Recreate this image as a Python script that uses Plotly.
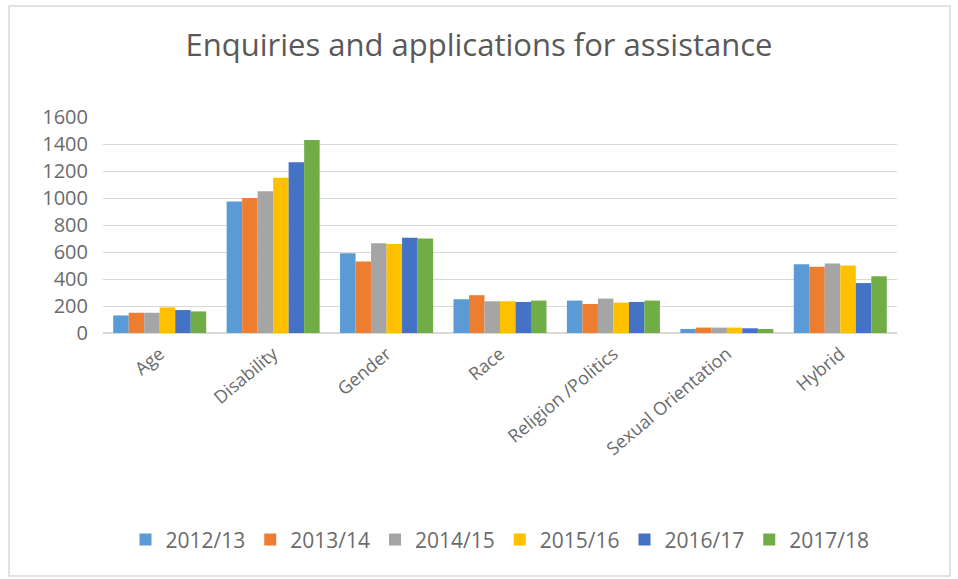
import plotly.graph_objects as go

categories = ["Age", "Disability", "Gender", "Race", "Religion /Politics", "Sexual Orientation", "Hybrid"]
years = ["2012/13", "2013/14", "2014/15", "2015/16", "2016/17", "2017/18"]
v_2012 = [130, 975, 590, 250, 240, 30, 510]
v_2013 = [150, 1000, 530, 280, 215, 40, 490]
v_2014 = [150, 1050, 665, 235, 255, 40, 515]
v_2015 = [190, 1150, 660, 235, 225, 40, 500]
v_2016 = [170, 1265, 705, 230, 230, 35, 370]
v_2017 = [160, 1430, 700, 240, 240, 30, 420]
series = [v_2012, v_2013, v_2014, v_2015, v_2016, v_2017]
colors = ["#5B9BD5", "#ED7D31", "#A5A5A5", "#FFC000", "#4472C4", "#70AD47"]
y_ticks = [0, 200, 400, 600, 800, 1000, 1200, 1400, 1600]

font_fam = "Open Sans, Liberation Sans, sans-serif"
fig = go.Figure()
for name, vals, c in zip(years, series, colors):
    fig.add_trace(go.Bar(x=categories, y=vals, name=name, marker=dict(color=c, line=dict(width=0))))

fig.update_layout(
    width=958, height=579,
    paper_bgcolor="white", plot_bgcolor="white",
    margin=dict(l=103, r=61, t=117, b=246),
    barmode="group", bargap=0.18, bargroupgap=0,
    title=dict(text="Enquiries and applications for assistance", x=0.5, xanchor="center",
               y=1 - 45 / 579, yanchor="middle",
               font=dict(family=font_fam, size=31, color="#595959")),
    xaxis=dict(tickangle=-40, tickfont=dict(family=font_fam, size=18, color="#6b6b6b"),
               showline=False, showgrid=False, ticks="", ticklabelstandoff=6),
    yaxis=dict(range=[0, 1600], tickvals=y_ticks, showgrid=True, gridcolor="#D9D9D9",
               gridwidth=1, zeroline=True, zerolinecolor="#D9D9D9",
               tickfont=dict(family=font_fam, size=20, color="#6b6b6b"), ticks="",
               ticklabelstandoff=14),
    legend=dict(orientation="h", x=0.5, xanchor="center", y=-0.958, yanchor="middle",
                font=dict(family=font_fam, size=21, color="#6b6b6b"), itemwidth=30,
                traceorder="normal"),
    showlegend=True,
    shapes=[dict(type="rect", xref="paper", yref="paper",
                 x0=(9 - 103) / 794, x1=(950 - 103) / 794,
                 y0=-(576 - 333) / 216, y1=(333 - 6) / 216,
                 line=dict(color="#D9D9D9", width=1.5), fillcolor="rgba(0,0,0,0)", layer="below")],
)
fig.write_html("out.html")
